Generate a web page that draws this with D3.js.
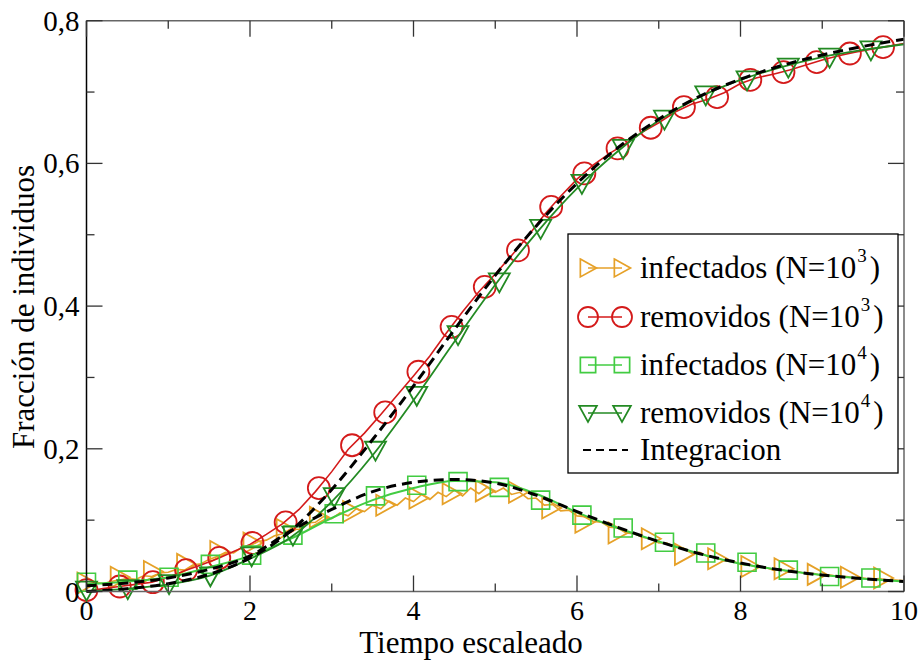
<!DOCTYPE html>
<html><head><meta charset="utf-8">
<script src="https://cdn.jsdelivr.net/npm/d3@7"></script>
<style>body{margin:0;background:#fff} svg{display:block}</style>
</head><body><svg id="c" width="923" height="662"></svg>
<script>
// ---- data ----
const infect3Step = 0.1;
const infect3Line = [
0.010,0.013,0.011,0.014,0.016,0.018,0.017,0.022,0.021,0.026,
0.027,0.031,0.030,0.037,0.039,0.045,0.049,0.055,0.054,0.062,
0.064,0.070,0.072,0.078,0.081,0.088,0.087,0.096,0.097,0.105,
0.102,0.110,0.106,0.116,0.112,0.121,0.116,0.127,0.121,0.131,
0.126,0.136,0.129,0.139,0.133,0.142,0.134,0.145,0.137,0.146,
0.139,0.145,0.136,0.139,0.130,0.131,0.121,0.122,0.113,0.114,
0.106,0.105,0.098,0.097,0.090,0.089,0.082,0.081,0.076,0.074,
0.068,0.068,0.062,0.061,0.055,0.055,0.049,0.048,0.043,0.043,
0.038,0.038,0.034,0.034,0.030,0.031,0.027,0.028,0.025,0.025,
0.022,0.023,0.021,0.021,0.019,0.019,0.017,0.018,0.016,0.016,
0.015];
const removed3Step = 0.2;
const removed3Line = [
0.000,0.004,0.007,0.010,0.013,0.020,0.029,0.037,0.046,0.056,
0.066,0.080,0.095,0.115,0.140,0.168,0.199,0.222,0.248,0.275,
0.302,0.330,0.362,0.392,0.420,0.445,0.471,0.498,0.528,0.554,
0.578,0.598,0.614,0.628,0.644,0.657,0.672,0.683,0.690,0.699,
0.712,0.720,0.725,0.731,0.738,0.745,0.751,0.756,0.760,0.764,
0.768];
const smoothStep = 0.5;
const infect4Line = [0.010,0.014,0.020,0.034,0.050,0.074,0.103,0.128,0.145,0.155,0.153,0.137,0.111,0.089,0.070,0.053,0.039,0.030,0.023,0.018,0.014];
const removed4Line = [0.000,0.004,0.010,0.022,0.046,0.076,0.126,0.191,0.268,0.350,0.430,0.502,0.565,0.617,0.660,0.693,0.717,0.735,0.749,0.759,0.767];
const integInfect  = [0.008,0.012,0.019,0.031,0.050,0.085,0.115,0.140,0.153,0.157,0.152,0.135,0.112,0.090,0.070,0.053,0.040,0.030,0.023,0.018,0.014];
const integRemoved = [0.000,0.004,0.011,0.024,0.047,0.085,0.143,0.213,0.288,0.367,0.443,0.512,0.572,0.622,0.662,0.694,0.718,0.737,0.752,0.764,0.774];

const markT3 = [0,0.406,0.812,1.218,1.624,2.03,2.436,2.842,3.248,3.654,4.06,4.466,4.872,5.278,5.684,6.09,6.496,6.902,7.308,7.714,8.12,8.526,8.932,9.338,9.744];
const infect3Marks  = [0.012,0.020,0.028,0.038,0.056,0.068,0.087,0.104,0.112,0.121,0.131,0.137,0.141,0.139,0.117,0.097,0.082,0.074,0.052,0.046,0.035,0.032,0.024,0.020,0.019];
const removed3Marks = [0.002,0.007,0.013,0.030,0.047,0.068,0.097,0.145,0.205,0.251,0.308,0.371,0.427,0.478,0.539,0.586,0.621,0.650,0.679,0.693,0.717,0.728,0.742,0.754,0.763];
const markT4 = [0,0.505,1.01,1.515,2.02,2.525,3.03,3.535,4.04,4.545,5.05,5.555,6.06,6.565,7.07,7.575,8.08,8.585,9.09,9.595];
const infect4Marks  = [0.013,0.016,0.020,0.038,0.051,0.079,0.109,0.134,0.149,0.154,0.146,0.128,0.107,0.089,0.069,0.054,0.041,0.030,0.021,0.019];
const removed4Marks = [0.002,0.004,0.011,0.022,0.050,0.079,0.133,0.198,0.275,0.360,0.434,0.509,0.572,0.621,0.662,0.696,0.717,0.735,0.749,0.759];

const xTickVals = [0,2,4,6,8,10];
const xTickLabels = ["0","2","4","6","8","10"];
const yTickVals = [0,0.2,0.4,0.6,0.8];
const yTickLabels = ["0","0,2","0,4","0,6","0,8"];

const legendLabels = [
  {t:"infectados (N=10", s:"3"},
  {t:"removidos (N=10", s:"3"},
  {t:"infectados (N=10", s:"4"},
  {t:"removidos (N=10", s:"4"},
  {t:"Integracion", s:null}
];

// ---- styles ----
const C = {orange:"#e6a128", red:"#d41a1a", lgreen:"#42cc42", dgreen:"#238a23"};
const FONT = "'Liberation Serif', 'Times New Roman', Times, 'DejaVu Serif', serif";

const svg = d3.select("#c");
const L = 86.5, R = 904, T = 20.7, B = 591.5;
const x = d3.scaleLinear().domain([0,10]).range([L,R]);
const y = d3.scaleLinear().domain([0,0.8]).range([B,T]);

const lineGen = d3.line().x(d=>x(d[0])).y(d=>y(d[1]));
const smoothGen = d3.line().x(d=>x(d[0])).y(d=>y(d[1])).curve(d3.curveMonotoneX);
const pts = (arr, step) => arr.map((v,i)=>[i*step, v]);
const mpts = (ts, vs) => ts.map((t,i)=>[t, vs[i]]);

const sym = {
  triR: "M-9,-10.5L10,0L-9,10.5Z",
  triD: "M-10.5,-8.5L10.5,-8.5L0,10.5Z",
  sq: "M-9,-9L9,-9L9,9L-9,9Z"
};
function drawMarks(data, kind, color, sw){
  const g = svg.append("g");
  data.forEach(d=>{
    if(kind==="circle"){
      g.append("circle").attr("cx",x(d[0])).attr("cy",y(d[1])).attr("r",11)
        .attr("fill","none").attr("stroke",color).attr("stroke-width",sw);
    } else {
      g.append("path").attr("d",sym[kind]).attr("transform",`translate(${x(d[0])},${y(d[1])})`)
        .attr("fill","none").attr("stroke",color).attr("stroke-width",sw);
    }
  });
}

svg.append("path").attr("d", lineGen(pts(infect3Line, infect3Step))).attr("fill","none").attr("stroke",C.orange).attr("stroke-width",1.6);
drawMarks(mpts(markT3, infect3Marks), "triR", C.orange, 1.8);
svg.append("path").attr("d", lineGen(pts(removed3Line, removed3Step))).attr("fill","none").attr("stroke",C.red).attr("stroke-width",1.6);
drawMarks(mpts(markT3, removed3Marks), "circle", C.red, 1.8);
svg.append("path").attr("d", smoothGen(pts(infect4Line, smoothStep))).attr("fill","none").attr("stroke",C.lgreen).attr("stroke-width",2);
drawMarks(mpts(markT4, infect4Marks), "sq", C.lgreen, 1.6);
svg.append("path").attr("d", smoothGen(pts(removed4Line, smoothStep))).attr("fill","none").attr("stroke",C.dgreen).attr("stroke-width",1.8);
drawMarks(mpts(markT4, removed4Marks), "triD", C.dgreen, 1.8);
[integInfect, integRemoved].forEach(arr=>{
  svg.append("path").attr("d", smoothGen(pts(arr, smoothStep))).attr("fill","none")
    .attr("stroke","#000").attr("stroke-width",3).attr("stroke-dasharray","10,6");
});

// ---- frame & ticks ----
const fg = svg.append("g");
fg.append("line").attr("x1",L).attr("x2",R).attr("y1",T).attr("y2",T).attr("stroke","#666").attr("stroke-width",1.5);
fg.append("line").attr("x1",L).attr("x2",R).attr("y1",B).attr("y2",B).attr("stroke","#666").attr("stroke-width",1.5);
fg.append("line").attr("x1",R).attr("x2",R).attr("y1",T).attr("y2",B).attr("stroke","#666").attr("stroke-width",1.5);
fg.append("line").attr("x1",L).attr("x2",L).attr("y1",T).attr("y2",B).attr("stroke","#000").attr("stroke-width",1.5);

const xMinor = [1,3,5,7,9], yMinor = [0.1,0.3,0.5,0.7];
function tickX(v,len){
  fg.append("line").attr("x1",x(v)).attr("x2",x(v)).attr("y1",B).attr("y2",B-len).attr("stroke","#333").attr("stroke-width",1.3);
  fg.append("line").attr("x1",x(v)).attr("x2",x(v)).attr("y1",T).attr("y2",T+len).attr("stroke","#333").attr("stroke-width",1.3);
}
function tickY(v,len){
  fg.append("line").attr("y1",y(v)).attr("y2",y(v)).attr("x1",L).attr("x2",L+len).attr("stroke","#333").attr("stroke-width",1.3);
  fg.append("line").attr("y1",y(v)).attr("y2",y(v)).attr("x1",R).attr("x2",R-len).attr("stroke","#333").attr("stroke-width",1.3);
}
xTickVals.forEach(v=>tickX(v,16)); xMinor.forEach(v=>tickX(v,8));
yTickVals.forEach(v=>tickY(v,16)); yMinor.forEach(v=>tickY(v,8));

const txt = (sel)=>sel.append("text").attr("font-family",FONT).attr("fill","#000");
xTickVals.forEach((v,i)=>{
  txt(svg).attr("x",x(v)).attr("y",B+28).attr("text-anchor","middle").attr("font-size",28).text(xTickLabels[i]);
});
yTickVals.forEach((v,i)=>{
  txt(svg).attr("x",L-7).attr("y",y(v)+10).attr("text-anchor","end").attr("font-size",29).text(yTickLabels[i]);
});

txt(svg).attr("x",471).attr("y",653).attr("text-anchor","middle").attr("font-size",31).text("Tiempo escaleado");
txt(svg).attr("transform",`translate(34,307) rotate(-90)`).attr("text-anchor","middle").attr("font-size",31).text("Fracción de individuos");

// ---- legend ----
const lg = svg.append("g");
lg.append("rect").attr("x",568).attr("y",234).attr("width",330).attr("height",239).attr("fill","#fff").attr("stroke","#000").attr("stroke-width",1.3);
const rowY = [268,317,365,413,450];
const legendStyle = [
  {c:C.orange, k:"triR"},
  {c:C.red, k:"circle"},
  {c:C.lgreen, k:"sq"},
  {c:C.dgreen, k:"triD"}
];
legendStyle.forEach((s,i)=>{
  const yy = rowY[i];
  lg.append("line").attr("x1",588).attr("x2",622).attr("y1",yy).attr("y2",yy).attr("stroke",s.c).attr("stroke-width",1.4);
  [588,622].forEach(xx=>{
    if(s.k==="circle") lg.append("circle").attr("cx",xx).attr("cy",yy).attr("r",10).attr("fill","none").attr("stroke",s.c).attr("stroke-width",1.8);
    else lg.append("path").attr("d",sym[s.k]).attr("transform",`translate(${xx},${yy}) scale(0.85)`).attr("fill","none").attr("stroke",s.c).attr("stroke-width",2);
  });
});
lg.append("line").attr("x1",583).attr("x2",628).attr("y1",rowY[4]).attr("y2",rowY[4]).attr("stroke","#000").attr("stroke-width",2).attr("stroke-dasharray","8,5");
legendLabels.forEach((d,i)=>{
  const t = txt(lg).attr("x",640).attr("y",rowY[i]+10).attr("font-size",31);
  t.append("tspan").text(d.t);
  if(d.s){
    t.append("tspan").attr("dy",-16).attr("dx",1).attr("font-size",19).text(d.s);
    t.append("tspan").attr("dy",16).attr("dx",3).text(")");
  }
});
</script></body></html>
